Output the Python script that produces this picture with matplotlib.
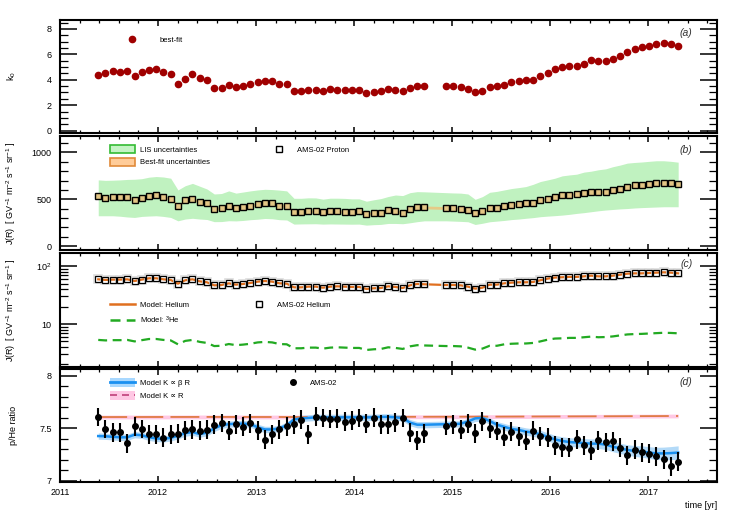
import numpy as np
import matplotlib
matplotlib.use('Agg')
import matplotlib.pyplot as plt
from matplotlib.lines import Line2D
from matplotlib.patches import Patch
from matplotlib.legend import Legend
from matplotlib.ticker import MultipleLocator, FixedLocator, LogLocator, FuncFormatter, NullFormatter

plt.rcParams['font.family'] = ['Liberation Sans', 'DejaVu Sans']
plt.rcParams['mathtext.fontset'] = 'custom'
plt.rcParams['mathtext.rm'] = 'Liberation Sans'
plt.rcParams['mathtext.it'] = 'Liberation Sans:italic'
plt.rcParams['mathtext.default'] = 'regular'

# Bartels rotation mid times (two rotations missing in late 2014)
t = [2011.390, 2011.464, 2011.538, 2011.612, 2011.686, 2011.760, 2011.834, 2011.907, 2011.981, 2012.055,
     2012.129, 2012.203, 2012.277, 2012.351, 2012.425, 2012.499, 2012.573, 2012.647, 2012.721, 2012.795,
     2012.868, 2012.942, 2013.016, 2013.090, 2013.164, 2013.238, 2013.312, 2013.386, 2013.460, 2013.534,
     2013.608, 2013.682, 2013.756, 2013.829, 2013.903, 2013.977, 2014.051, 2014.125, 2014.199, 2014.273,
     2014.347, 2014.421, 2014.495, 2014.569, 2014.643, 2014.717,
     2014.938, 2015.012, 2015.086, 2015.160, 2015.234, 2015.308, 2015.382, 2015.456, 2015.530, 2015.604,
     2015.678, 2015.751, 2015.825, 2015.899, 2015.973, 2016.047, 2016.121, 2016.195, 2016.269, 2016.343,
     2016.417, 2016.491, 2016.565, 2016.639, 2016.712, 2016.786, 2016.860, 2016.934, 2017.008, 2017.082,
     2017.156, 2017.230, 2017.304]

# (a) best-fit k0
k0 = [4.37, 4.55, 4.66, 4.61, 4.66, 4.26, 4.61, 4.79, 4.82, 4.61,
      4.47, 3.68, 4.05, 4.42, 4.11, 3.97, 3.39, 3.39, 3.61, 3.45,
      3.53, 3.63, 3.79, 3.87, 3.87, 3.63, 3.63, 3.08, 3.13, 3.18,
      3.18, 3.13, 3.24, 3.21, 3.16, 3.16, 3.16, 2.95, 3.04, 3.08,
      3.26, 3.18, 3.08, 3.34, 3.50, 3.50,
      3.53, 3.47, 3.45, 3.26, 3.00, 3.11, 3.42, 3.47, 3.58, 3.84,
      3.87, 3.97, 4.00, 4.32, 4.53, 4.82, 4.97, 5.08, 5.11, 5.24,
      5.53, 5.47, 5.47, 5.63, 5.87, 6.16, 6.45, 6.55, 6.68, 6.82,
      6.92, 6.82, 6.63]

# (b) proton flux and LIS uncertainty band
p_flux = [539, 511, 521, 521, 525, 489, 518, 539, 546, 521,
          507, 432, 489, 504, 471, 461, 400, 404, 429, 407,
          418, 432, 450, 461, 457, 432, 432, 364, 368, 371,
          375, 361, 371, 371, 368, 364, 371, 346, 352, 357,
          382, 375, 357, 393, 414, 414,
          407, 404, 400, 386, 357, 371, 407, 407, 429, 443,
          446, 457, 464, 489, 507, 529, 550, 550, 553, 568,
          582, 579, 579, 596, 611, 632, 654, 657, 664, 671,
          679, 671, 668]
fit_unc_p = 15
lis_hi = [707, 702, 704, 707, 712, 714, 720, 736, 743, 738,
          725, 600, 645, 670, 640, 610, 557, 562, 590, 566,
          578, 590, 600, 607, 604, 598, 590, 511, 511, 516,
          515, 502, 512, 512, 510, 505, 505, 480, 495, 508,
          530, 546, 540, 571, 582, 580,
          571, 568, 566, 557, 500, 529, 575, 585, 600, 615,
          625, 636, 660, 690, 707, 725, 750, 760, 768, 790,
          800, 815, 825, 848, 865, 886, 893, 898, 905, 911,
          911, 905, 896]
lis_lo = [325, 325, 325, 320, 312, 307, 318, 322, 325, 318,
          307, 271, 290, 298, 290, 285, 262, 263, 272, 270,
          275, 283, 288, 296, 293, 283, 280, 236, 238, 239,
          240, 236, 238, 237, 236, 235, 236, 225, 230, 233,
          243, 243, 240, 250, 262, 271,
          271, 268, 265, 261, 232, 245, 261, 268, 275, 284,
          290, 298, 305, 315, 321, 326, 332, 340, 350, 358,
          368, 378, 386, 392, 398, 402, 408, 412, 415, 418,
          421, 421, 421]

# (c) helium flux and 3He model
he_flux = [59.5, 58.0, 58.8, 58.8, 59.5, 55.6, 58.8, 62.0, 62.0, 59.5,
           58.0, 50.0, 57.3, 59.5, 54.9, 52.8, 46.8, 47.4, 50.7, 48.1,
           49.4, 51.4, 54.2, 55.6, 54.2, 50.7, 50.0, 43.2, 43.2, 44.4,
           44.4, 42.6, 44.4, 45.0, 44.4, 43.8, 43.8, 40.5, 41.6, 42.1,
           45.0, 43.8, 42.1, 46.8, 49.4, 48.8,
           47.4, 47.4, 46.8, 44.4, 41.0, 42.6, 48.1, 48.1, 50.7, 52.1,
           52.8, 52.8, 53.5, 57.3, 61.2, 63.8, 64.6, 65.5, 65.5, 67.0,
           68.8, 67.0, 67.0, 68.8, 71.5, 74.5, 75.5, 75.5, 76.5, 77.6,
           78.7, 77.6, 75.5]
he3_model = [5.3, 5.2, 5.25, 5.25, 5.3, 5.0, 5.25, 5.5, 5.5, 5.3,
             5.2, 4.45, 5.1, 5.3, 4.9, 4.7, 4.15, 4.2, 4.5, 4.3,
             4.4, 4.55, 4.8, 4.9, 4.8, 4.5, 4.45, 3.8, 3.8, 3.9,
             3.9, 3.75, 3.9, 3.95, 3.9, 3.85, 3.85, 3.55, 3.65, 3.7,
             3.95, 3.85, 3.7, 4.1, 4.3, 4.25,
             4.15, 4.15, 4.1, 3.9, 3.6, 3.75, 4.2, 4.2, 4.45, 4.55,
             4.6, 4.6, 4.7, 5.0, 5.35, 5.6, 5.65, 5.75, 5.75, 5.9,
             6.05, 5.9, 5.95, 6.1, 6.35, 6.6, 6.7, 6.75, 6.85, 6.95,
             7.05, 7.0, 6.9]

# (d) p/He ratio
ratio = [7.608, 7.494, 7.462, 7.462, 7.360, 7.519, 7.494, 7.446, 7.446, 7.411,
         7.446, 7.449, 7.481, 7.490, 7.478, 7.487, 7.535, 7.551, 7.478, 7.538,
         7.516, 7.548, 7.481, 7.392, 7.446, 7.490, 7.522, 7.541, 7.583, 7.443,
         7.611, 7.599, 7.589, 7.592, 7.564, 7.573, 7.599, 7.545, 7.602, 7.541,
         7.541, 7.557, 7.599, 7.459, 7.389, 7.455,
         7.525, 7.541, 7.487, 7.545, 7.455, 7.567, 7.500, 7.475, 7.420, 7.468,
         7.427, 7.382, 7.478, 7.424, 7.411, 7.341, 7.322, 7.318, 7.398, 7.338,
         7.293, 7.385, 7.369, 7.376, 7.315, 7.245, 7.299, 7.274, 7.261, 7.236,
         7.207, 7.140, 7.185]
ratio_err = 0.09
bR_model = [7.427, 7.425, 7.420, 7.415, 7.415, 7.440, 7.435, 7.415, 7.405, 7.400,
            7.410, 7.430, 7.455, 7.465, 7.445, 7.460, 7.500, 7.530, 7.540, 7.545,
            7.545, 7.540, 7.510, 7.490, 7.490, 7.500, 7.530, 7.585, 7.595, 7.600,
            7.605, 7.605, 7.605, 7.605, 7.605, 7.605, 7.605, 7.605, 7.605, 7.610,
            7.610, 7.605, 7.600, 7.555, 7.535, 7.535,
            7.540, 7.540, 7.545, 7.565, 7.595, 7.600, 7.570, 7.535, 7.515, 7.495,
            7.485, 7.470, 7.460, 7.445, 7.420, 7.395, 7.380, 7.370, 7.365, 7.360,
            7.355, 7.355, 7.345, 7.325, 7.310, 7.295, 7.285, 7.280, 7.270, 7.262,
            7.262, 7.265, 7.270]
bR_err = [0.03] * 46 + [0.03, 0.03, 0.03, 0.03, 0.03, 0.03, 0.03, 0.03, 0.032, 0.033,
                        0.034, 0.035, 0.036, 0.037, 0.038, 0.039, 0.040, 0.041, 0.042, 0.043,
                        0.044, 0.045, 0.046, 0.047, 0.048, 0.050, 0.052, 0.054, 0.056, 0.058,
                        0.060, 0.062, 0.064]
R_t = [2011.39, 2012.5, 2013.5, 2014.5, 2015.5, 2016.5, 2017.304]
R_model = [7.608, 7.609, 7.608, 7.610, 7.612, 7.615, 7.618]
R_err = 0.018

t = np.array(t)
p_flux = np.array(p_flux, dtype=float)
bR_model = np.array(bR_model)
bR_err = np.array(bR_err)
R_model = np.array(R_model)

W, H = 747, 521
fig = plt.figure(figsize=(W / 100, H / 100), dpi=100)


def box(top, bottom):
    return [60 / W, 1 - bottom / H, 657 / W, (bottom - top) / H]


def style(ax):
    ax.set_xlim(2011, 2017.7)
    ax.xaxis.set_major_locator(MultipleLocator(1))
    ax.xaxis.set_minor_locator(MultipleLocator(0.2))
    ax.tick_params(which='both', direction='in', top=True, right=True, labelsize=6.5)
    ax.tick_params(axis='y', which='major', length=12, width=1.1, pad=6)
    ax.tick_params(axis='y', which='minor', length=6, width=0.9)
    ax.tick_params(axis='x', which='major', length=4.5, width=1.1, pad=4)
    ax.tick_params(axis='x', which='minor', length=2.5, width=0.9)
    for s in ax.spines.values():
        s.set_linewidth(1.5)
    ax.yaxis.set_label_coords(-0.064, 0.5)


def legend_at(ax, handles, labels, x, y, hl=3.3, pad=0.7, spacing=0.51, hh=1.2):
    leg = Legend(ax, handles, labels, loc='upper left', bbox_to_anchor=(x, y),
                 bbox_transform=ax.transAxes, frameon=False, fontsize=5.5,
                 handlelength=hl, handleheight=hh, handletextpad=pad,
                 labelspacing=spacing, borderpad=0, borderaxespad=0)
    ax.add_artist(leg)


def panel_tag(ax, s, y):
    ax.text(0.963, y, s, transform=ax.transAxes, ha='right', va='top',
            fontsize=7.5, style='italic', color='#333333')


ax_a = fig.add_axes(box(20, 132.5))
ax_b = fig.add_axes(box(136, 250))
ax_c = fig.add_axes(box(253, 367))
ax_d = fig.add_axes(box(369, 482))

# (a)
ax_a.plot(t, k0, 'o', color='#a00000', ms=4.5, mec='#a00000')
ax_a.set_ylim(-0.15, 8.7)
ax_a.yaxis.set_major_locator(MultipleLocator(2))
ax_a.yaxis.set_minor_locator(MultipleLocator(0.5))
ax_a.set_ylabel('k$_0$', fontsize=6.5)
style(ax_a)
legend_at(ax_a, [Line2D([], [], ls='none', marker='o', ms=4.5, color='#a00000')],
          ['best-fit'], 0.101, 0.863, hl=1.5, pad=2.9)
panel_tag(ax_a, '(a)', 0.93)

# (b)
ax_b.fill_between(t, lis_lo, lis_hi, color='#c0f2c0', lw=0)
ax_b.fill_between(t, p_flux - fit_unc_p, p_flux + fit_unc_p, color='#ffb060', alpha=0.6, lw=0)
ax_b.plot(t, p_flux, 's', ms=4, mfc='#e2c585', mec='black', mew=1)
ax_b.set_ylim(-40, 1175)
ax_b.yaxis.set_major_locator(MultipleLocator(500))
ax_b.yaxis.set_minor_locator(MultipleLocator(100))
ax_b.set_ylabel('J(R)  [ GV$^{-1}$ m$^{-2}$ s$^{-1}$ sr$^{-1}$ ]', fontsize=6.5)
style(ax_b)
legend_at(ax_b, [Patch(fc='#c4f4c4', ec='#33bb33', lw=1.2),
                 Patch(fc='#ffcc99', ec='#e08a3a', lw=1.2)],
          ['LIS uncertainties', 'Best-fit uncertainties'], 0.076, 0.918)
legend_at(ax_b, [Line2D([], [], ls='none', marker='s', ms=4, mfc='white', mec='black', mew=1)],
          ['AMS-02 Proton'], 0.325, 0.918, hl=1.5, pad=1.6)
panel_tag(ax_b, '(b)', 0.92)

# (c)
ax_c.plot(t, he_flux, color='#e07020', lw=1.6)
ax_c.plot(t, he3_model, color='#22aa22', lw=1.6, dashes=(4, 2.5))
ax_c.plot(t, he_flux, 's', ms=5.4, mfc='none', mec='#dddddd', mew=1.2)
ax_c.plot(t, he_flux, 's', ms=4, mfc='none', mec='black', mew=0.9)
ax_c.set_yscale('log')
ax_c.set_ylim(1.8, 170)
ax_c.yaxis.set_major_locator(FixedLocator([10, 100]))
ax_c.yaxis.set_major_formatter(FuncFormatter(lambda v, p: '10' if v < 50 else '$10^{2}$'))
ax_c.yaxis.set_minor_locator(LogLocator(base=10, subs=np.arange(2, 10)))
ax_c.yaxis.set_minor_formatter(NullFormatter())
ax_c.set_ylabel('J(R)  [ GV$^{-1}$ m$^{-2}$ s$^{-1}$ sr$^{-1}$ ]', fontsize=6.5)
style(ax_c)
legend_at(ax_c, [Line2D([], [], color='#e07020', lw=1.8),
                 Line2D([], [], color='#22aa22', lw=1.8, dashes=(4, 2.5))],
          ['Model: Helium', 'Model: $^{3}$He'], 0.076, 0.584, spacing=0.78)
legend_at(ax_c, [Line2D([], [], ls='none', marker='s', ms=4, mfc='white', mec='black', mew=1)],
          ['AMS-02 Helium'], 0.294, 0.584, hl=1.5, pad=1.6)
panel_tag(ax_c, '(c)', 0.95)

# (d)
ax_d.fill_between(R_t, R_model - R_err, R_model + R_err, color='#ffc8e4', lw=0)
ax_d.plot(R_t, R_model, color='#e07b45', lw=1.3, dashes=(16, 4))
ax_d.fill_between(t, bR_model - bR_err, bR_model + bR_err, color='#a6d4f7', alpha=0.85, lw=0)
ax_d.plot(t, bR_model, color='#1a90f0', lw=1.8)
ax_d.errorbar(t, ratio, yerr=ratio_err, fmt='o', color='black', ms=4, elinewidth=1.5, capsize=0)
ax_d.set_ylim(6.99, 8.065)
ax_d.yaxis.set_major_locator(MultipleLocator(0.5))
ax_d.yaxis.set_minor_locator(MultipleLocator(0.1))
ax_d.yaxis.set_major_formatter(FuncFormatter(lambda v, p: '%g' % v))
ax_d.set_ylabel('p/He ratio', fontsize=6.5)
style(ax_d)
legend_at(ax_d, [(Patch(fc='#a8d8ff', ec='none'), Line2D([], [], color='#1a90f0', lw=2)),
                 (Patch(fc='#ffc8e4', ec='none'), Line2D([], [], color='#c0407a', lw=1.2, dashes=(4.2, 3)))],
          ['Model K \u221d \u03b2 R', 'Model K \u221d R'], 0.076, 0.917, hh=1.35)
legend_at(ax_d, [Line2D([], [], ls='none', marker='o', ms=4, color='black')],
          ['AMS-02'], 0.346, 0.917, hl=1.5, pad=1.5)
panel_tag(ax_d, '(d)', 0.93)

for ax in (ax_a, ax_b, ax_c):
    ax.tick_params(labelbottom=False)

fig.text(717 / W, 1 - 506 / H, 'time [yr]', ha='right', va='center', fontsize=6.5)

fig.savefig('out.png', dpi=100)
